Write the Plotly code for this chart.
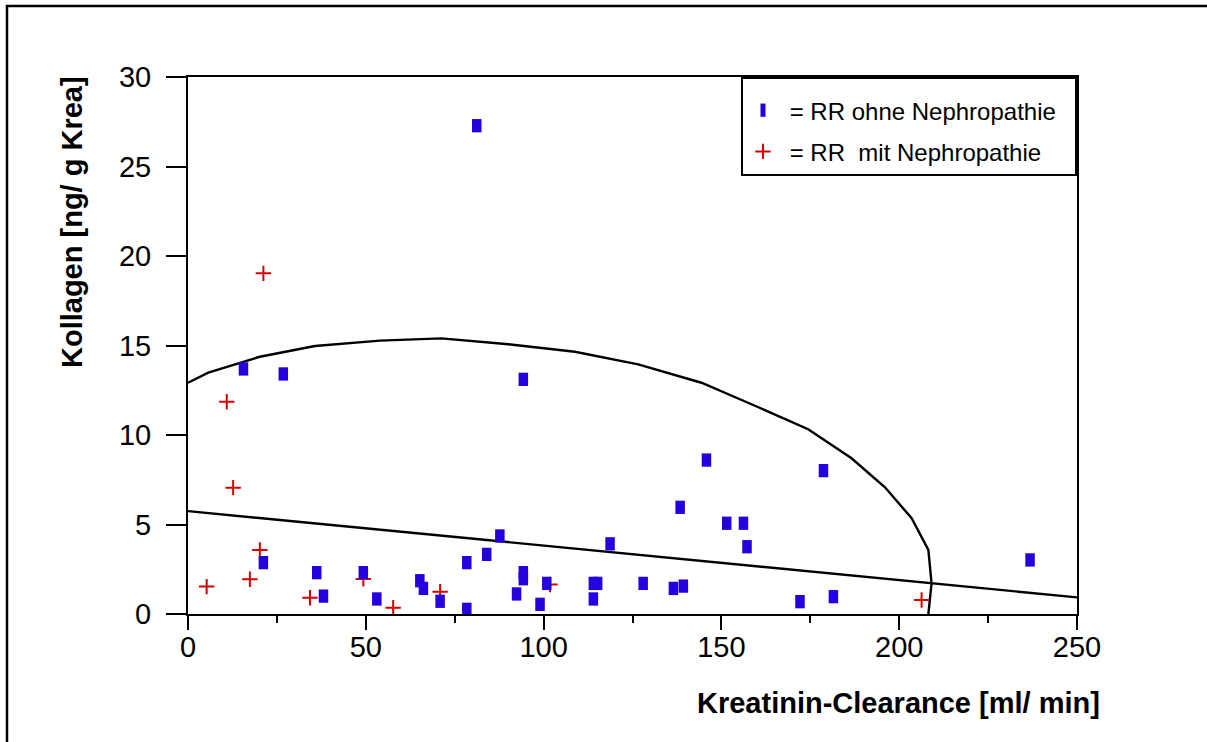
import plotly.graph_objects as go

# ---- data ----
blue_x = [81.2, 15.6, 26.8, 94.3, 145.8, 178.7, 138.4, 151.5, 156.2, 157.2,
          118.7, 87.7, 84.0, 78.4, 236.8, 21.2, 36.2, 49.3, 94.3, 94.3,
          100.9, 65.2, 66.2, 114.0, 115.2, 128.0, 136.5, 139.3, 38.1, 53.1,
          70.9, 78.4, 92.4, 99.0, 114.0, 172.1, 181.5]
blue_y = [27.28, 13.69, 13.41, 13.11, 8.60, 8.01, 5.96, 5.07, 5.07, 3.76,
          3.92, 4.36, 3.33, 2.87, 3.02, 2.87, 2.31, 2.31, 2.31, 1.97,
          1.71, 1.86, 1.43, 1.71, 1.71, 1.71, 1.43, 1.56, 1.00, 0.84,
          0.71, 0.26, 1.12, 0.54, 0.84, 0.69, 0.97]

red_x = [21.2, 10.9, 12.7, 20.2, 5.25, 17.4, 34.3, 49.3, 57.7, 70.9, 101.8, 206.3]
red_y = [19.03, 11.86, 7.06, 3.58, 1.53, 1.94, 0.91, 1.96, 0.35, 1.25, 1.65, 0.78]

ellipse_x = [0, 5.7, 20.2, 35.7, 54.0, 71.3, 90.1, 108.8, 126.6, 144.4,
             160.4, 174.4, 186.6, 196.0, 203.5, 208.2, 209.1, 208.2]
ellipse_y = [12.92, 13.48, 14.37, 14.97, 15.27, 15.40, 15.07, 14.65, 13.95, 12.92,
             11.55, 10.32, 8.70, 7.08, 5.35, 3.58, 1.71, 0.0]

reg_x = [0, 250]
reg_y = [5.75, 0.93]

x_ticks = [0, 50, 100, 150, 200, 250]
y_ticks = [0, 5, 10, 15, 20, 25, 30]

name_blue = "\u00a0= RR ohne Nephropathie\u00a0\u00a0"
name_red = "\u00a0= RR\u00a0 mit Nephropathie"
x_title = "Kreatinin-Clearance [ml/ min]"
y_title = "Kollagen [ng/ g Krea]"

FONT = "Liberation Sans, Arial, sans-serif"
BLUE = "#2400DC"
RED = "#D40000"

fig = go.Figure()

fig.add_trace(go.Scatter(x=ellipse_x, y=ellipse_y, mode="lines",
                         line=dict(color="black", width=2.4), showlegend=False,
                         hoverinfo="skip"))
fig.add_trace(go.Scatter(x=reg_x, y=reg_y, mode="lines",
                         line=dict(color="black", width=2.4), showlegend=False,
                         hoverinfo="skip"))

fig.add_trace(go.Scatter(x=red_x, y=red_y, mode="markers", name=name_red,
                         legendgroup="b", legendrank=2,
                         marker=dict(symbol="cross-thin", size=11, color=RED,
                                     line=dict(color=RED, width=2))))
fig.add_trace(go.Scatter(x=blue_x, y=blue_y, mode="markers", name=name_blue,
                         legendgroup="a", legendrank=1,
                         marker=dict(symbol="line-ns", size=9.5, color=BLUE,
                                     line=dict(color=BLUE, width=9.5))))

# plot-area pixel geometry
L, R, T, B = 188, 130, 77, 128
W, H = 1207, 742
pw, ph = W - L - R, H - T - B

def px(xp):
    return (xp - L) / pw

def py(yp):
    return (H - B - yp) / ph

fig.update_layout(
    width=W, height=H,
    margin=dict(l=L, r=R, t=T, b=B),
    paper_bgcolor="white", plot_bgcolor="white",
    font=dict(family=FONT, size=29, color="black"),
    showlegend=True,
    legend=dict(x=1, xanchor="right", y=1, yanchor="top",
                bgcolor="white", bordercolor="black", borderwidth=2,
                font=dict(family=FONT, size=24, color="black"),
                title=dict(text="\u00a0", font=dict(family=FONT, size=7)),
                tracegroupgap=7, traceorder="grouped"),
    xaxis=dict(range=[0, 250], tickvals=x_ticks, ticks="outside", ticklen=14,
               tickwidth=2, tickcolor="black", showline=True, linewidth=2,
               linecolor="black", mirror=True, showgrid=False, zeroline=False,
               ticklabelstandoff=-8,
               tickfont=dict(family=FONT, size=29),
               minor=dict(dtick=25, tick0=0, ticks="outside", ticklen=7,
                          tickwidth=2, tickcolor="black", showgrid=False)),
    yaxis=dict(range=[0, 30], tickvals=y_ticks, ticks="outside", ticklen=20,
               tickwidth=2, tickcolor="black", showline=True, linewidth=2,
               linecolor="black", mirror=True, showgrid=False, zeroline=False,
               ticklabelstandoff=9,
               tickfont=dict(family=FONT, size=29)),
    annotations=[
        dict(text="<b>" + x_title + "</b>", xref="paper", yref="paper",
             x=px(1102), y=py(703), xanchor="right", yanchor="middle",
             showarrow=False, font=dict(family=FONT, size=29)),
        dict(text="<b>" + y_title + "</b>", xref="paper", yref="paper",
             x=px(72), y=py(222), xanchor="center", yanchor="middle",
             textangle=-90, showarrow=False, font=dict(family=FONT, size=29)),
    ],
    shapes=[
        dict(type="rect", xref="paper", yref="paper",
             x0=px(7), x1=px(1230), y0=py(6), y1=py(760),
             line=dict(color="black", width=2.5), fillcolor="rgba(0,0,0,0)",
             layer="below"),
    ],
)

fig.write_html("out.html")
